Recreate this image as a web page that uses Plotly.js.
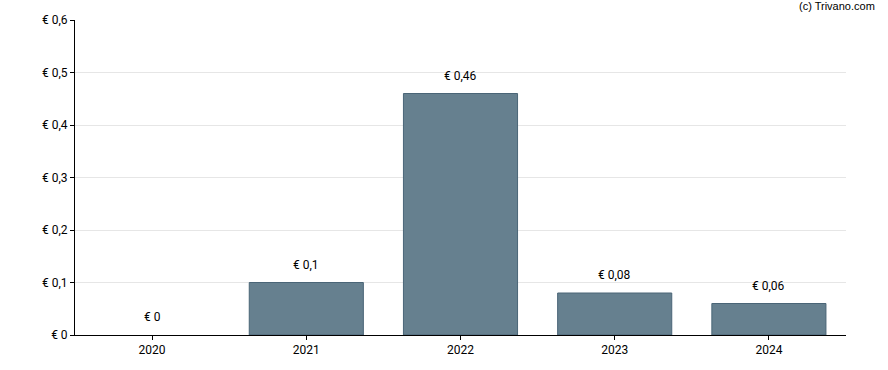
<!DOCTYPE html>
<html>
<head>
<meta charset="utf-8">
<script src="https://cdn.plot.ly/plotly-3.0.1.min.js"></script>
<style>html,body{margin:0;padding:0;background:#fff;}#chart{width:888px;height:370px;}</style>
</head>
<body>
<div id="chart"></div>
<script>
const years = ['2020', '2021', '2022', '2023', '2024'];
const dividends = [0, 0.1, 0.46, 0.08, 0.06];
const valueLabels = ['€ 0', '€ 0,1', '€ 0,46', '€ 0,08', '€ 0,06'];
const yTickVals = [0, 0.1, 0.2, 0.3, 0.4, 0.5, 0.6];
const yTickText = ['€ 0', '€ 0,1', '€ 0,2', '€ 0,3', '€ 0,4', '€ 0,5', '€ 0,6'];

const trace = {
  type: 'bar',
  x: years,
  y: dividends,
  width: 0.74,
  marker: {color: '#66808f', line: {color: '#4a6577', width: dividends.map(v => v > 0 ? 1 : 0)}},
  hoverinfo: 'none'
};

const annotations = years.map((yr, i) => ({
  x: i, y: dividends[i], xref: 'x', yref: 'y',
  text: valueLabels[i], showarrow: false,
  yanchor: 'middle', yshift: 18,
  font: {family: 'Roboto, sans-serif', size: 12, color: '#000'}
}));
annotations.push({
  xref: 'paper', yref: 'paper', x: 1.04, y: 1.02,
  xanchor: 'right', yanchor: 'bottom',
  text: '(c) Trivano.com', showarrow: false,
  font: {family: 'Liberation Sans, Arial, sans-serif', size: 11, color: '#000'}
});

const layout = {
  width: 888, height: 370,
  margin: {l: 75, r: 42, t: 20, b: 35},
  paper_bgcolor: '#fff', plot_bgcolor: '#fff',
  font: {family: 'Roboto, sans-serif', size: 12, color: '#000'},
  showlegend: false,
  xaxis: {
    type: 'category',
    range: [-0.5, years.length - 0.5],
    showline: true, linecolor: '#000', linewidth: 1,
    ticks: 'outside', ticklen: 4, tickcolor: '#000',
    showgrid: false, zeroline: false,
    tickfont: {family: 'Roboto, sans-serif', size: 12, color: '#000'}
  },
  yaxis: {
    range: [0, 0.6],
    tickvals: yTickVals, ticktext: yTickText,
    showline: true, linecolor: '#000', linewidth: 1,
    ticks: 'outside', ticklen: 4, tickcolor: '#000',
    showgrid: true, gridcolor: '#e6e6e6', gridwidth: 1,
    zeroline: false,
    tickfont: {family: 'Roboto, sans-serif', size: 12, color: '#000'}
  },
  annotations: annotations
};

Plotly.newPlot('chart', [trace], layout, {displayModeBar: false, staticPlot: true});
</script>
</body>
</html>
